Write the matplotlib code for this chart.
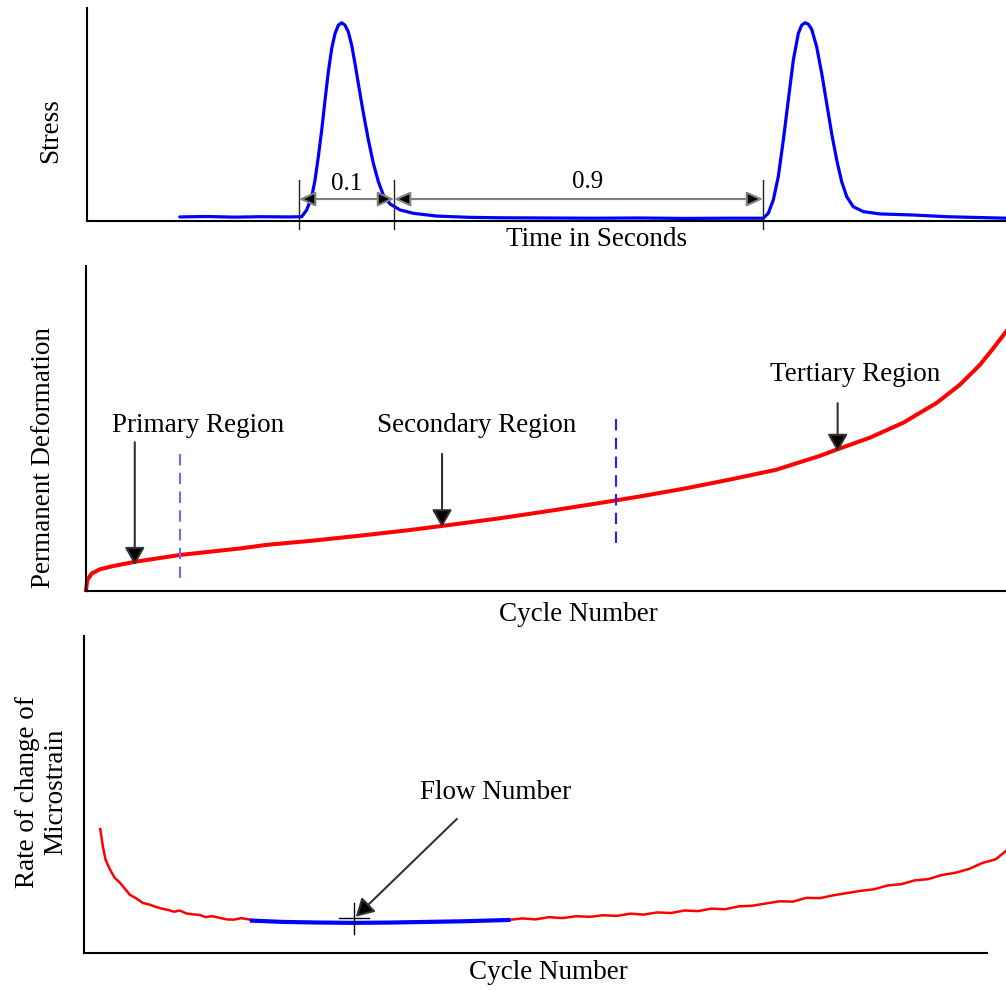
import numpy as np
import matplotlib
matplotlib.use("Agg")
import matplotlib.pyplot as plt

plt.rcParams['font.family'] = ['Liberation Serif', 'DejaVu Serif']

FS = 19.5

# ---- top panel: stress pulses (x, y in % of axis span)
stress_x = [10.1, 13.0, 16.0, 19.0, 22.0, 23.36, 23.91, 24.45, 24.81, 25.17, 25.54, 25.90,
            26.26, 26.63, 26.99, 27.35, 27.72, 28.07, 28.43, 28.80, 29.16, 29.52, 30.07,
            30.61, 31.15, 31.70, 32.24, 32.97, 34.06, 35.51, 38.05, 41.68, 45.0, 50.0,
            55.0, 60.0, 65.0, 70.0, 73.59, 74.13, 74.68, 75.22, 75.77, 76.31, 76.86,
            77.40, 77.77, 78.13, 78.49, 78.86, 79.40, 79.95, 80.49, 81.03, 81.58, 82.12,
            82.67, 83.38, 84.47, 86.29, 89.91, 93.55, 100.0]
stress_y = [1.9, 2.1, 1.8, 2.0, 1.9, 2.0, 5.2, 11.4, 19.2, 30.2, 42.7, 56.8,
            70.1, 81.1, 88.1, 92.0, 93.1, 92.0, 88.9, 82.6, 74.0, 64.6, 50.7,
            38.2, 27.2, 18.5, 12.2, 8.0, 5.2, 3.6, 2.3, 1.7, 1.5, 1.4,
            1.3, 1.4, 1.2, 1.3, 1.3, 3.6, 9.9, 20.8, 38.0, 56.8, 75.6,
            88.1, 92.0, 93.1, 92.5, 90.0, 81.8, 69.3, 55.2, 41.1, 28.6, 18.5,
            11.4, 6.7, 4.4, 3.3, 2.8, 2.0, 1.3]
dim_marks = [23.07, 33.41, 73.56]
dim_labels = ['0.1', '0.9']

# ---- middle panel: permanent deformation
perm_x = [0, 0.14, 0.62, 1.52, 2.97, 5.33, 10.22, 16.74, 19.64, 25.0, 30.0, 35.0, 40.0,
          45.0, 50.0, 55.0, 60.0, 65.0, 70.0, 75.0, 79.78, 81.77, 85.22, 88.84, 92.47,
          95.0, 97.17, 98.62, 100.0]
perm_y = [0.3, 3.4, 5.4, 6.7, 7.7, 9.0, 11.1, 13.1, 14.2, 15.6, 17.1, 18.7, 20.5,
          22.4, 24.5, 26.7, 29.0, 31.5, 34.3, 37.3, 41.6, 43.7, 47.2, 51.8, 57.9,
          63.5, 69.6, 74.7, 79.8]
region_names = ['Primary Region', 'Secondary Region', 'Tertiary Region']
region_arrow_x = [5.3, 38.7, 81.7]
region_bounds = [10.2, 57.6]

# ---- bottom panel: rate of change of microstrain
rate_left_x = [1.8, 2.1, 2.4, 2.9, 3.4, 4.0, 4.6, 5.1, 5.8, 6.5, 7.2, 8.0, 8.6, 9.3,
               10.0, 10.6, 11.3, 12.0, 12.8, 13.5, 14.2, 15.0, 15.8, 16.6, 17.4, 18.0, 18.6]
rate_left_y = [39.1, 33.4, 29.3, 26.2, 23.7, 22.1, 20.0, 18.3, 17.2, 15.8, 15.3, 14.5, 14.0,
               13.6, 13.0, 13.4, 12.5, 12.2, 12.0, 11.3, 11.6, 11.1, 10.6, 10.5, 11.0, 10.7, 10.4]
flow_x = [18.6, 22.0, 26.0, 30.0, 34.0, 38.0, 42.0, 47.0]
flow_y = [10.2, 9.8, 9.6, 9.5, 9.6, 9.8, 10.0, 10.4]
rate_right_x = [47.0, 48.5, 50.0, 51.5, 53.0, 54.5, 56.0, 57.5, 59.0, 60.5, 62.0, 63.5,
                65.0, 66.5, 68.0, 69.5, 71.0, 72.5, 74.0, 75.5, 77.0, 78.5, 80.0, 81.5,
                83.0, 84.5, 86.0, 87.5, 89.0, 90.5, 92.0, 93.5, 95.0, 96.5, 98.0, 99.5,
                101.0, 102.1]
rate_right_y = [10.4, 10.9, 10.6, 11.3, 11.0, 11.6, 11.4, 11.9, 11.7, 12.4, 12.1, 12.8,
                12.6, 13.4, 13.2, 14.0, 13.8, 14.7, 14.9, 15.6, 16.3, 16.2, 17.4, 17.3,
                18.2, 18.9, 19.6, 20.1, 21.3, 21.7, 22.9, 23.3, 24.6, 25.3, 26.5, 28.4,
                29.6, 32.2]
flow_number_x = 29.9
flow_number_y = 11.0


def bare_axes(ax):
    for s in ['top', 'right']:
        ax.spines[s].set_visible(False)
    for s in ['left', 'bottom']:
        ax.spines[s].set_linewidth(1.5)
        ax.spines[s].set_color('black')
    ax.set_xticks([])
    ax.set_yticks([])
    ax.set_xlim(0, 100)
    ax.set_ylim(0, 100)


fig = plt.figure(figsize=(10.06, 9.9), dpi=100)
ax1 = fig.add_axes([0.0865, 0.7768, 0.9135, 0.215])
ax2 = fig.add_axes([0.0855, 0.4030, 0.9145, 0.3283])
ax3 = fig.add_axes([0.0835, 0.0374, 0.8976, 0.3202])
for ax in (ax1, ax2, ax3):
    bare_axes(ax)

# top
ax1.plot(stress_x, stress_y, color='#0000ff', lw=2.3, solid_capstyle='round', clip_on=False)
for xm in dim_marks:
    ax1.plot([xm, xm], [19.2, -3.8], color='#222222', lw=1.0, clip_on=False)
arr_top = dict(arrowstyle='<|-|>,head_length=0.55,head_width=0.25', ec='#808080', fc='black',
               lw=1.5, mutation_scale=18, shrinkA=0, shrinkB=0)
ax1.annotate('', xy=(dim_marks[1], 10.3), xytext=(dim_marks[0], 10.3), arrowprops=arr_top)
ax1.annotate('', xy=(dim_marks[2], 10.3), xytext=(dim_marks[1], 10.3), arrowprops=arr_top)
ax1.text(28.3, 17.4, dim_labels[0], fontsize=18, ha='center', va='center')
ax1.text(54.5, 18.3, dim_labels[1], fontsize=18, ha='center', va='center')
ax1.text(55.5, -8.9, 'Time in Seconds', fontsize=FS, ha='center', va='center', clip_on=False)
ax1.text(-4.0, 42.7, 'Stress', fontsize=FS, ha='center', va='center', rotation=90)

# middle
ax2.plot(perm_x, perm_y, color='#ff0000', lw=2.9, clip_on=False)
ax2.plot([region_bounds[0]] * 2, [42.2, 2.5], color='#6a6aff', lw=1.5, dashes=(5.5, 3.5))
ax2.plot([region_bounds[1]] * 2, [52.9, 13.2], color='#2020ff', lw=1.5, dashes=(5.5, 3.5))
arr_mid = dict(arrowstyle='-|>,head_length=0.6,head_width=0.34', ec='#333333', fc='black',
               lw=1.5, mutation_scale=18, shrinkA=0, shrinkB=0)
ax2.annotate('', xy=(region_arrow_x[0], 8.0), xytext=(region_arrow_x[0], 45.8), arrowprops=arr_mid)
ax2.annotate('', xy=(region_arrow_x[1], 19.6), xytext=(region_arrow_x[1], 42.2), arrowprops=arr_mid)
ax2.annotate('', xy=(region_arrow_x[2], 42.8), xytext=(region_arrow_x[2], 57.8), arrowprops=arr_mid)
ax2.text(12.2, 50.8, region_names[0], fontsize=FS, ha='center', va='center')
ax2.text(42.5, 50.8, region_names[1], fontsize=FS, ha='center', va='center')
ax2.text(83.6, 66.5, region_names[2], fontsize=FS, ha='center', va='center')
ax2.text(53.5, -7.1, 'Cycle Number', fontsize=FS, ha='center', va='center', clip_on=False)
ax2.text(-4.6, 41.2, 'Permanent Deformation', fontsize=FS, ha='center', va='center', rotation=90)

# bottom
ax3.plot(rate_left_x, rate_left_y, color='#ff0000', lw=1.8, clip_on=False)
ax3.plot(rate_right_x, rate_right_y, color='#ff0000', lw=1.8, clip_on=False)
ax3.plot(flow_x, flow_y, color='#0000ff', lw=3.0, clip_on=False)
ax3.plot([flow_number_x, flow_number_x], [15.8, 6.0], color='black', lw=1.0)
ax3.plot([28.2, 31.6], [flow_number_y, flow_number_y], color='black', lw=1.0)
ax3.annotate('', xy=(30.1, 11.4), xytext=(41.3, 42.3), arrowprops=arr_mid)
ax3.text(45.6, 50.5, 'Flow Number', fontsize=FS, ha='center', va='center')
ax3.text(51.4, -6.3, 'Cycle Number', fontsize=FS, ha='center', va='center', clip_on=False)
ax3.text(-4.7, 50.8, 'Rate of change of\nMicrostrain', fontsize=FS, ha='center', va='center',
         rotation=90, linespacing=1.15)

fig.savefig('out.png', dpi=100)
